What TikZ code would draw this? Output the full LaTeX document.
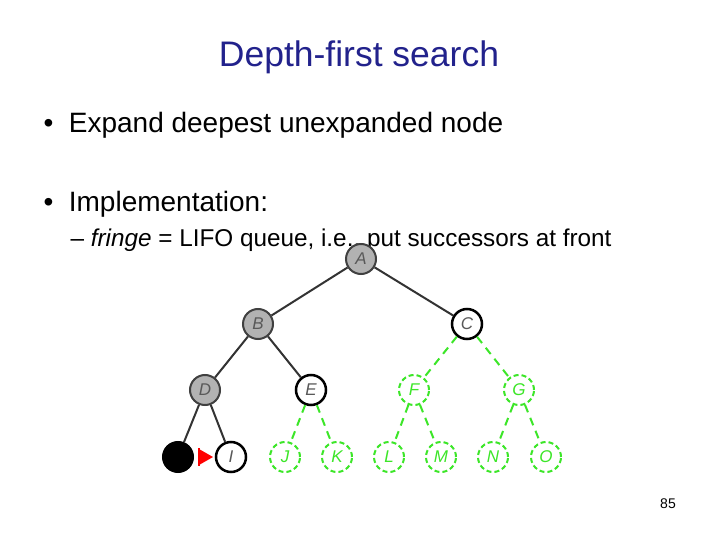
\documentclass[tikz,border=0pt]{standalone}
\usepackage{fontspec}
\setmainfont{Liberation Sans}
\usepackage{tikz}
\usetikzlibrary{positioning}
\definecolor{titleblue}{RGB}{34,34,140}
\definecolor{fringegreen}{RGB}{60,230,40}
\tikzset{
  visited/.style={circle, draw=black!75, fill=black!30, line width=2pt, minimum size=30pt, inner sep=0pt, font=\itshape\fontsize{17}{17}\selectfont, text=black!65},
  open/.style={visited, draw=black, fill=white, line width=2.5pt},
  unseen/.style={visited, draw=fringegreen, fill=white, dash pattern=on 5pt off 3pt, text=fringegreen},
  tree/.style={line width=2pt, black!80},
  future/.style={line width=2pt, fringegreen, dash pattern=on 8pt off 6pt}
}
\begin{document}
\begin{tikzpicture}[x=1pt,y=-1pt]
  \useasboundingbox[fill=white] (0,0) rectangle (720,540);

  % Texts
  \node[text=titleblue, font=\fontsize{35.5}{35.5}\selectfont] (title) at (359,57) {Depth-first search};
  \node[anchor=west, font=\fontsize{28}{28}\selectfont] (first) at (40,125) {\textbullet\ \ Expand deepest unexpanded node};
  \node[anchor=west, font=\fontsize{28}{28}\selectfont] (impl) at (40,204) {\textbullet\ \ Implementation:};
  \node[anchor=west, font=\fontsize{24.3}{24.3}\selectfont] (fringe) at (67,240) {-- \textit{fringe} = LIFO queue, i.e., put successors at front};
  \node[font=\fontsize{14}{14}\selectfont] (page) at (668,504) {85};

  % Tree positions
  \coordinate (pA) at (361,259);
  \coordinate (pB) at (258,324);
  \coordinate (pC) at (467,324);
  \coordinate (pD) at (205,390);
  \coordinate (pE) at (311,390);
  \coordinate (pF) at (414,390);
  \coordinate (pG) at (519,390);
  \coordinate (pH) at (178,457);
  \coordinate (pI) at (231,457);
  \coordinate (pJ) at (285,457);
  \coordinate (pK) at (337,457);
  \coordinate (pL) at (389,457);
  \coordinate (pM) at (441,457);
  \coordinate (pN) at (493,457);
  \coordinate (pO) at (546,457);

  % Draw the states
  \node[visited] at (pA) (A) {A};
  \node[visited] at (pB) (B) {B};
  \node[open]    at (pC) (C) {C};
  \node[visited] at (pD) (D) {D};
  \node[open]    at (pE) (E) {E};
  \node[unseen]  at (pF) (F) {F};
  \node[unseen]  at (pG) (G) {G};
  \node[visited, fill=black, draw=black] at (pH) (H) {};
  \node[open]    at (pI) (I) {I};
  \node[unseen]  at (pJ) (J) {J};
  \node[unseen]  at (pK) (K) {K};
  \node[unseen]  at (pL) (L) {L};
  \node[unseen]  at (pM) (M) {M};
  \node[unseen]  at (pN) (N) {N};
  \node[unseen]  at (pO) (O) {O};

  % Connect the states
  \draw[tree] (A) -- (B) (A) -- (C) (B) -- (D) (B) -- (E) (D) -- (H) (D) -- (I);
  \draw[future] (C) -- (F) (C) -- (G) (E) -- (J) (E) -- (K)
                (F) -- (L) (F) -- (M) (G) -- (N) (G) -- (O);

  % Current node marker
  \fill[red] (199,449) -- (213,457) -- (199,465) -- cycle;
  \draw[red, line width=1.5pt] (199,448) -- (199,466);
\end{tikzpicture}
\end{document}
